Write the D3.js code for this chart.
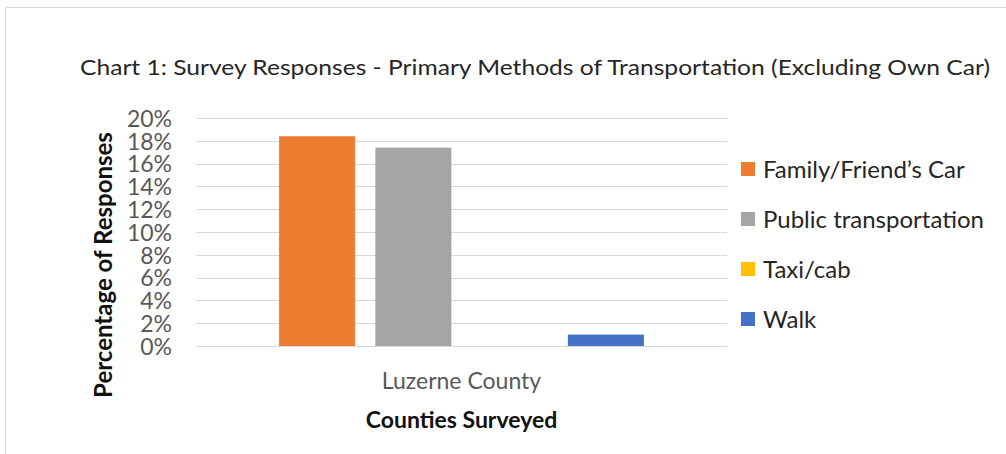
<!DOCTYPE html>
<html lang="en">
<head>
  <meta charset="utf-8">
  <title>Chart 1: Survey Responses</title>
  <script src="https://cdn.jsdelivr.net/npm/d3@7"></script>
  <style>
    body { margin: 0; background: white; }
    text { font-family: Lato, "Open Sans", sans-serif; }
  </style>
</head>
<body>
  <script>
    // data
    var counties = ["Luzerne County"];
    var methods = ["Family/Friend\u2019s Car", "Public transportation", "Taxi/cab", "Walk"];
    var shares = [0.184, 0.174, 0, 0.010];
    var colors = ["#ED7D31", "#A5A5A5", "#FFC000", "#4472C4"];
    var yTicks = [0, 0.02, 0.04, 0.06, 0.08, 0.10, 0.12, 0.14, 0.16, 0.18, 0.20];

    var width = 1006, height = 454;
    var plot = { left: 196, right: 727, top: 118, bottom: 346 };

    var svg = d3.select("body").append("svg")
                .attr("width", width)
                .attr("height", height);

    // chart frame
    svg.append("rect")
       .attr("x", 5.5).attr("y", 7.5)
       .attr("width", width + 10).attr("height", height + 10)
       .attr("fill", "white")
       .attr("stroke", "#d9d9d9");

    var x0 = d3.scaleBand().domain(counties)
               .range([plot.left, plot.right])
               .padding(0.1855);
    var x1 = d3.scaleBand().domain(methods)
               .range([0, x0.bandwidth()])
               .paddingInner(0.21).paddingOuter(0);
    var y = d3.scaleLinear().domain([0, 0.2]).range([plot.bottom, plot.top]);

    // gridlines
    svg.append("g")
       .selectAll("line")
       .data(yTicks)
       .enter().append("line")
       .attr("x1", plot.left).attr("x2", plot.right)
       .attr("y1", function(d) { return Math.round(y(d)) + 0.5; })
       .attr("y2", function(d) { return Math.round(y(d)) + 0.5; })
       .attr("stroke", "#d9d9d9")
       .attr("stroke-width", 1);

    // y axis labels
    var yAxis = d3.axisLeft(y).tickValues(yTicks).tickFormat(d3.format(".0%")).tickSize(0).tickPadding(0);
    var gy = svg.append("g")
                .attr("transform", "translate(172,0)")
                .call(yAxis);
    gy.select(".domain").remove();
    gy.selectAll("text")
      .attr("fill", "#595959")
      .attr("font-size", 23)
      .attr("font-family", "Lato")
      .attr("dy", "0.36em");

    // bars
    var bars = svg.append("g");
    counties.forEach(function(c) {
      bars.selectAll("rect.bar")
          .data(methods)
          .enter().append("rect")
          .attr("class", "bar")
          .attr("x", function(m) { return x0(c) + x1(m); })
          .attr("width", x1.bandwidth())
          .attr("y", function(m, i) { return y(shares[i]); })
          .attr("height", function(m, i) { return y(0) - y(shares[i]); })
          .attr("fill", function(m, i) { return colors[i]; });
    });

    // x axis category label
    var xAxis = d3.axisBottom(x0).tickSize(0).tickPadding(0);
    var gx = svg.append("g")
                .attr("transform", "translate(0,389)")
                .call(xAxis);
    gx.select(".domain").remove();
    gx.selectAll("text")
      .attr("fill", "#595959")
      .attr("font-size", 23)
      .attr("font-family", "Lato")
      .attr("dy", 0);

    // title
    svg.append("text")
       .attr("x", 80).attr("y", 75)
       .attr("fill", "#262626")
       .attr("font-size", 21)
       .attr("textLength", 910)
       .attr("lengthAdjust", "spacingAndGlyphs")
       .text("Chart 1: Survey Responses - Primary Methods of Transportation (Excluding Own Car)");

    // axis titles
    svg.append("text")
       .attr("x", x0("Luzerne County") + x0.bandwidth() / 2).attr("y", 428)
       .attr("text-anchor", "middle")
       .attr("font-size", 23)
       .attr("font-weight", "bold")
       .attr("fill", "#111")
       .text("Counties Surveyed");

    svg.append("text")
       .attr("transform", "translate(112,265) rotate(-90)")
       .attr("text-anchor", "middle")
       .attr("font-size", 24)
       .attr("font-weight", "bold")
       .attr("fill", "#111")
       .text("Percentage of Responses");

    // legend
    var legend = svg.append("g")
                    .selectAll("g")
                    .data(methods)
                    .enter().append("g")
                    .attr("transform", function(d, i) { return "translate(741," + (169 + i * 50) + ")"; });
    legend.append("rect")
          .attr("x", 0).attr("y", -7)
          .attr("width", 14).attr("height", 14)
          .attr("fill", function(d, i) { return colors[i]; });
    legend.append("text")
          .attr("x", 22).attr("y", 0)
          .attr("dy", "0.36em")
          .attr("font-size", 24)
          .attr("fill", "#262626")
          .text(function(d) { return d; });
  </script>
</body>
</html>
